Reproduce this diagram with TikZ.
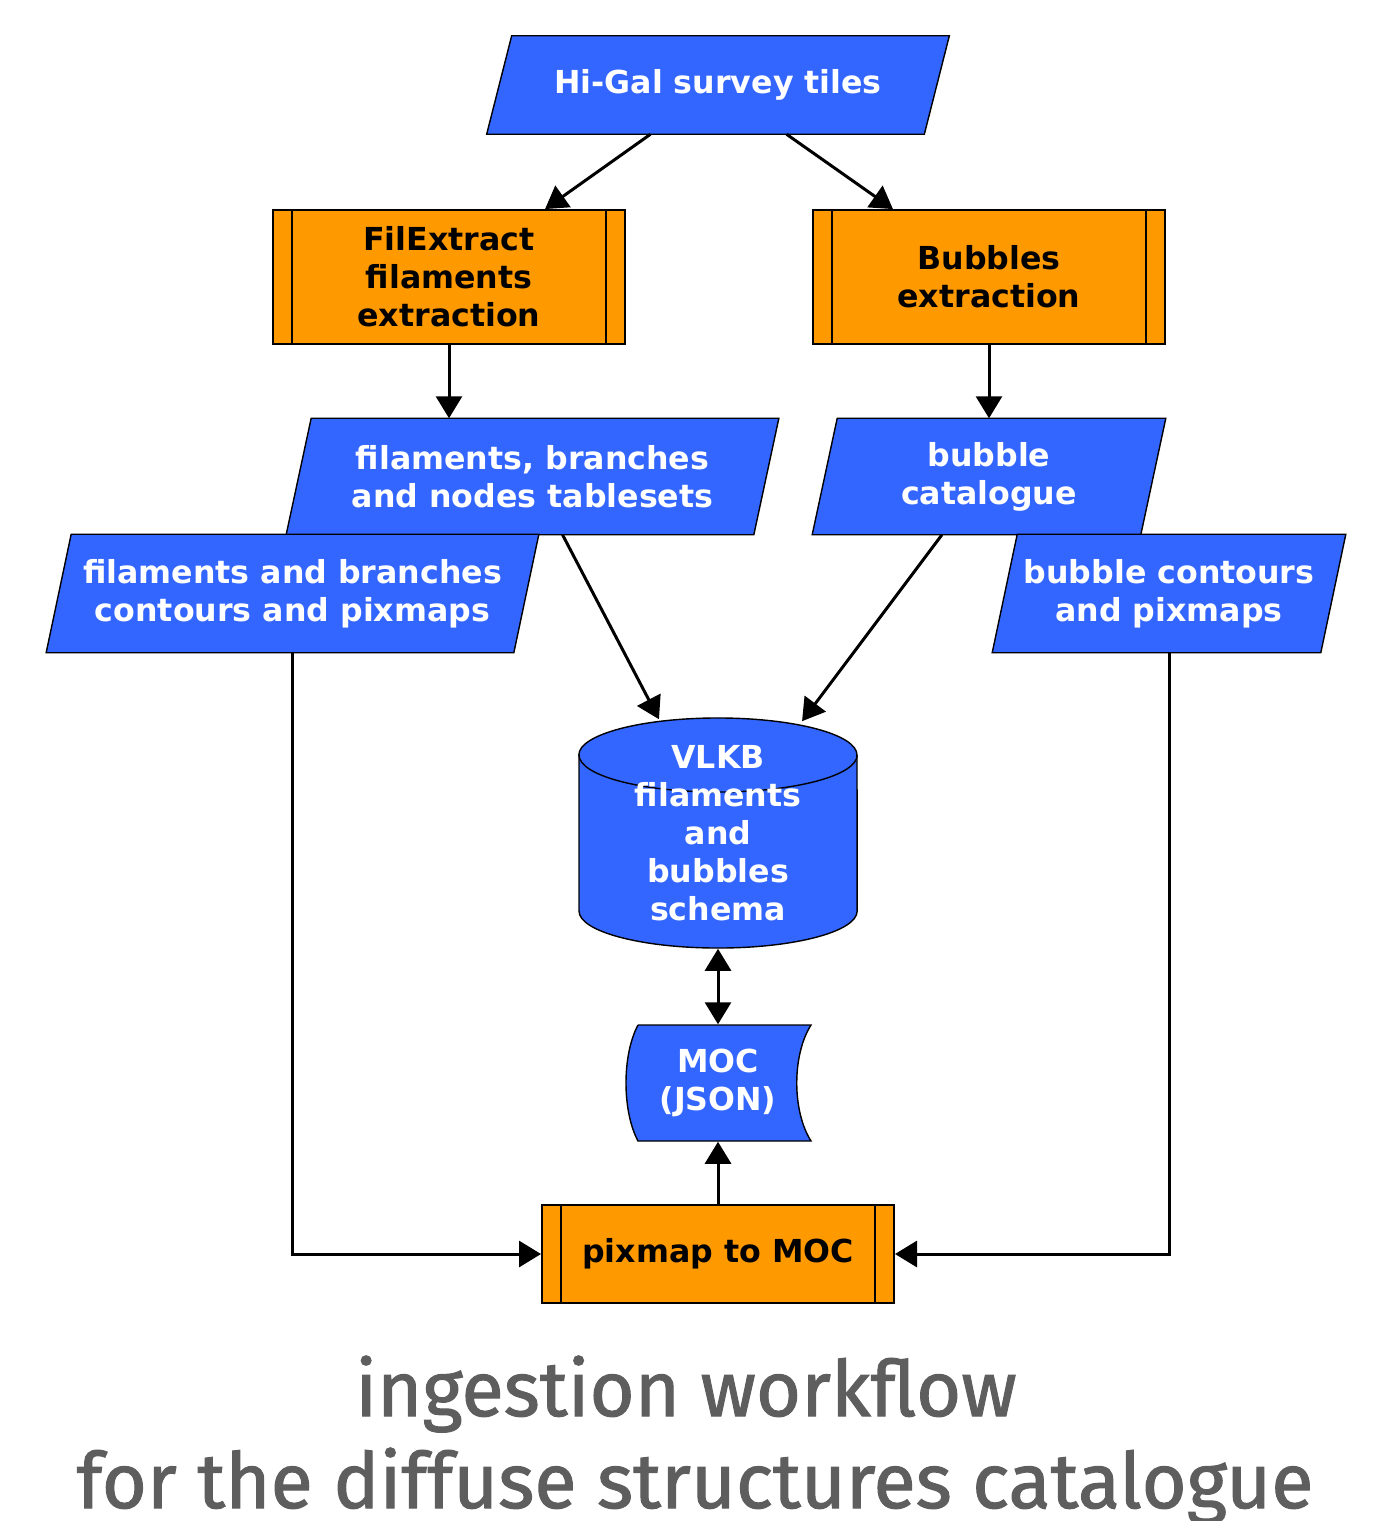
\documentclass[tikz,border=0pt]{standalone}
\usepackage{fontspec}
\newfontfamily\boxfont{DejaVu Sans}
\newfontfamily\titlefont[FakeBold=1.3]{Fira Sans}
\usetikzlibrary{arrows.meta,backgrounds}
\definecolor{datablue}{HTML}{3366FF}
\definecolor{procorange}{HTML}{FF9900}
\definecolor{titlegray}{HTML}{5E5E5E}

\begin{document}
\begin{tikzpicture}[
        x=0.01cm, y=-0.01cm,
        >={Triangle[length=0.22cm, width=0.26cm]},
        every node/.style={align=center, font=\boxfont\bfseries\fontsize{9}{10.8}\selectfont},
        datap/.style={text=white, inner sep=0pt},
        proc/.style={rectangle, draw, fill=procorange, minimum width=3.52cm, line width=0.5pt},
        flow/.style={line width=0.85pt, ->},
        heading/.style={anchor=base, text=titlegray, font=\titlefont\fontsize{22}{26}\selectfont},
    ]
    \useasboundingbox (0,0) rectangle (1382,1521);

    % data (parallelograms drawn behind, see below) and process boxes
    \node[datap, minimum width=4.61cm, minimum height=0.97cm] (higal) at (718,85) {Hi-Gal survey tiles};
    \node[proc, minimum height=1.34cm] (filx) at (449,277) {FilExtract\\filaments\\extraction};
    \node[proc, minimum height=1.34cm] (bubx) at (989,277) {Bubbles\\extraction};
    \node[datap, minimum width=4.91cm, minimum height=1.15cm] (tabs) at (532.5,476.5) {filaments, branches\\and nodes tablesets};
    \node[datap, minimum width=3.52cm, minimum height=1.15cm] (cat) at (989,476.5) {bubble\\catalogue};
    \node[datap, minimum width=4.91cm, minimum height=1.17cm] (fcont) at (292.5,593.5) {filaments and branches\\contours and pixmaps};
    \node[datap, minimum width=3.52cm, minimum height=1.17cm] (bcont) at (1169,593.5) {bubble contours\\and pixmaps};
    \node[datap, minimum width=2.78cm, minimum height=2.3cm] (vlkb) at (718,833) {VLKB\\filaments\\and\\bubbles\\schema};
    \node[datap, minimum width=1.83cm, minimum height=1.16cm] (moc) at (718,1083) {MOC\\(JSON)};
    \node[proc, minimum height=0.98cm] (pix) at (718,1254) {pixmap to MOC};
    \foreach \n in {filx,bubx,pix}
        \draw[line width=0.5pt] ([xshift=0.2cm]\n.north west) -- ([xshift=0.2cm]\n.south west)
            ([xshift=-0.2cm]\n.north east) -- ([xshift=-0.2cm]\n.south east);

    \begin{scope}[on background layer, line width=0.5pt]
        \foreach \n in {higal,tabs,cat,fcont,bcont}
            \filldraw[fill=datablue] ([xshift=0.25cm]\n.north west) -- (\n.north east)
                -- ([xshift=-0.25cm]\n.south east) -- (\n.south west) -- cycle;
        % database cylinder
        \filldraw[fill=datablue] (579,755) -- (579,911) arc[start angle=180, end angle=360, x radius=1.39cm, y radius=0.37cm]
            -- (857,755) arc[start angle=0, end angle=180, x radius=1.39cm, y radius=0.37cm] -- cycle;
        \draw (579,755) arc[start angle=180, end angle=360, x radius=1.39cm, y radius=0.37cm];
        % stored data
        \filldraw[fill=datablue] (638,1025) -- (811,1025) .. controls (792,1055) and (792,1111) .. (811,1141)
            -- (638,1141) .. controls (622,1111) and (622,1055) .. (638,1025);
    \end{scope}

    % connectors
    \draw[flow] ([xshift=-0.675cm]higal.south) -- ([xshift=0.96cm]filx.north);
    \draw[flow] ([xshift=0.685cm]higal.south) -- ([xshift=-0.96cm]bubx.north);
    \draw[flow] (filx.south) -- (filx.south |- tabs.north);
    \draw[flow] (bubx.south) -- (bubx.south |- cat.north);
    \draw[flow] ([xshift=0.3cm]tabs.south) -- ([xshift=-0.59cm, yshift=-0.02cm]vlkb.north);
    \draw[flow] ([xshift=-0.47cm]cat.south) -- ([xshift=0.84cm, yshift=-0.04cm]vlkb.north);
    \draw[flow, <->] (vlkb.south) -- (moc.north);
    \draw[flow] (pix.north) -- (moc.south);
    \draw[flow] (fcont.south) |- (pix.west);
    \draw[flow] (bcont.south) |- (pix.east);

    \node[heading] (title1) at (686,1416) {ingestion workflow};
    \node[heading] (title2) at (695,1508) {for the diffuse structures catalogue};
\end{tikzpicture}
\end{document}
